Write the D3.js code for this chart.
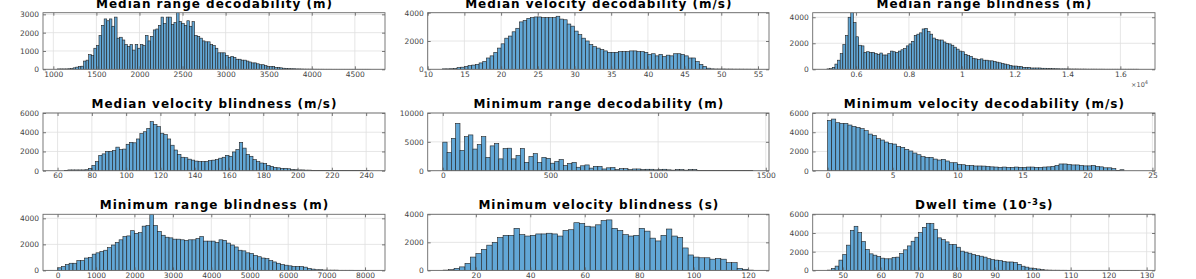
<!DOCTYPE html>
<html><head><meta charset="utf-8">
<script src="https://cdn.jsdelivr.net/npm/d3@7"></script>
<style>body{margin:0;background:#fff}svg{display:block}</style>
</head><body><svg id="c" width="1196" height="279"></svg>
<script>
// ---------- DATA ----------
const titles = [
  "Median range decodability (m)", "Median velocity decodability (m/s)", "Median range blindness (m)",
  "Median velocity blindness (m/s)", "Minimum range decodability (m)", "Minimum velocity decodability (m/s)",
  "Minimum range blindness (m)", "Minimum velocity blindness (s)", "Dwell time"
];
const binStarts = [1050, 12, 4900, 60, 0, 0, 0, 8, 45];
const binWidths = [30, 0.5, 100, 2, 20, 0.3125, 100, 2, 1];

const medRangeDec = [20,20,20,20,30,40, 80,120,150,170,450,500,800,750,
  1150,1300,1850,2400,2750,2650,2750,2350,2850,
  1700,1750,1600,1350,1250,1350,1050,1350,1150,1350,1300,
  1850,1550,1800,2150,2200,2400,2850,2500,2850,2850,2450,2550,3100,
  2600,2500,2400,2650,2350,2600,1850,1800,1700,1550,1500,1500,1350,1300,1150,
  900,900,900,750,650,700,650,550,550,500,500,450,400,350,350,300,250,250,200,150,150,150,100,100,80,60,50,40,30,30,20,20,
  15,10,10,8,6,5,4,3,3,2,2,2,1,1,1,1,1,1,1,1,1,1,1,1,1,1,1];
const medVelDec = [30,30,40,60,120,150,200,260,300,350,450,550,800,950,1200,1500,1800,2200,2350,2650,2900,3350,3450,3600,3650,3700,
  3700,3650,3650,3650,3650,3750,3550,3500,3200,3050,2700,2450,2200,2000,1750,1600,1500,1400,1300,1200,1200,1200,
  1250,1250,1250,1300,1300,1250,1250,1200,1050,1100,950,1050,900,1000,950,1100,1100,1050,950,800,800,550,350,200,80,30,
  20,20,20,15,15,10,10,10,8,8,5,5];
const medRangeBlind = [30,50,150,400,700,1200,1900,2600,4000,4400,3600,2500,1850,1800,1300,1350,1300,1300,1200,1150,
  1250,1100,1100,1200,1400,1350,1300,1400,1500,1600,1800,1950,2150,2600,2700,2800,3100,3150,2900,2700,
  2400,2300,2250,2250,2100,2000,1950,1850,1700,1550,1400,1350,1150,1050,1000,850,800,750,800,700,
  700,650,650,600,550,500,450,400,350,300,250,250,200,200,150,150,150,100,100,100,100,80,80,60,60,50,
  40,40,30,30,30,25,20,20,20,15,15,15,10,10,10,10,8,8,8,5,5,5,5,5,5,5,5,5,5,5,5,5];
const medVelBlind = [0,0,10,80,80,80,80,80,100,
  250,550,950,1600,1750,2000,2000,2100,2450,2200,2250,2750,2950,2900,3300,3850,4050,4400,5100,
  4800,4600,3900,3750,3300,2650,2150,1700,1400,1350,1200,1100,1000,950,950,950,1050,1100,1150,1300,1400,
  1600,1500,1950,2200,2950,2350,1700,1500,1150,950,800,750,550,450,350,300,250,250,200,120,100,80,80,60,60,20,
  10,8,8,5,5,5,5,3,3,3,3,2,2,2,2,2];
const minRangeDec = [4950,3150,5600,8200,3500,5900,6200,3750,4550,5900,2300,4300,4700,2050,3850,3900,2050,2650,3850,1450,
  2450,2950,1450,2300,2150,1300,1600,1950,900,1250,1450,600,850,1000,450,750,750,300,500,550,
  200,350,350,200,300,300,200,250,250,150,200,250,150,100,200,200,100,200,200,50,
  30,30,20,20,20,10,10,10,10,5,5,5];
const minVelDec = [5230,5370,4990,4920,4920,4750,4610,4500,4370,4160,3810,3670,3330,3190,2980,2840,2770,2500,2430,2220,
  2050,1840,1660,1460,1390,1390,1210,1110,1180,1010,830,830,
  660,620,550,550,490,490,480,450,
  400,380,350,380,350,350,380,350,350,380,380,350,350,380,400,
  450,550,700,700,650,600,600,550,500,500,550,450,400,300,300,220,20,100,0,0,0,0];
const minRangeBlind = [200,300,450,550,550,750,750,950,1000,1250,1350,1450,1550,1750,1950,2150,2350,2600,2650,3050,2850,2900,3400,3450,4300,
  3450,3000,2700,2550,2500,2400,2400,2350,2300,2350,2350,2450,2600,2250,
  2250,2250,2150,2350,2300,2100,1950,1800,1550,1500,1350,1300,1150,1050,950,900,750,650,550,450,400,350,300,300,300,250,150,100,50,50,
  30,20,20,20,10,10,10,10,5,5,5,5];
const minVelBlind = [20,50,150,250,500,950,1200,1500,1800,2000,2350,2500,2500,3000,2550,2450,2500,2600,2600,2650,2600,2450,
  2850,2900,3400,3350,3150,3100,3250,3550,3600,3000,2850,2550,2450,2500,3000,2800,2300,2100,2500,2950,2450,2350,
  1600,1100,950,900,900,800,850,800,550,550,150,80,20];
const dwellTime = [0,30,210,460,1100,1700,2700,4290,4720,4040,3090,2230,1770,1630,1490,1310,1240,1240,1380,1420,
  1810,2200,2620,3120,3550,4040,4610,5040,5000,4400,3480,3300,3050,2770,2770,2480,2060,1950,1840,1700,1600,1520,1420,
  1250,1150,1100,1050,950,900,900,850,650,450,350,250,200,150,80,40,30,
  20,20,15,15,10,10,10,8,8,5,5,5,5,5,3,3,3,3,3,3,3,3,3];
const counts = [medRangeDec, medVelDec, medRangeBlind, medVelBlind, minRangeDec, minVelDec, minRangeBlind, minVelBlind, dwellTime];

const xDomains = [[880,4850],[10,56.5],[4360,17310],[51.5,251],[-70,1515],[-1.15,25.2],[-380,8520],[2.3,127.7],[42.1,132.2]];
const yMaxes = [3090, 4000, 4350, 6000, 10000, 6000, 4310, 4000, 6000];
const xTicks = [
  [1000,1500,2000,2500,3000,3500,4000,4500],
  [10,15,20,25,30,35,40,45,50,55],
  [6000,8000,10000,12000,14000,16000],
  [60,80,100,120,140,160,180,200,220,240],
  [0,500,1000,1500],
  [0,5,10,15,20,25],
  [0,1000,2000,3000,4000,5000,6000,7000,8000],
  [20,40,60,80,100,120],
  [50,60,70,80,90,100,110,120,130]
];
const xTickLabels3 = ["0.6","0.8","1","1.2","1.4","1.6"];
const yTicks = [
  [0,1000,2000,3000],[0,2000,4000],[0,2000,4000],
  [0,2000,4000,6000],[0,5000,10000],[0,2000,4000,6000],
  [0,2000,4000],[0,2000,4000],[0,2000,4000,6000]
];

// ---------- LAYOUT ----------
const colX = [[43,385],[427.7,769],[812.7,1155]];
const rowY = [[12.7,69.3],[113,170.7],[214.3,270.4]];
const svg = d3.select("#c");
const FONT = "'DejaVu Sans', Arial, sans-serif";

counts.forEach((cnt, i) => {
  const r = Math.floor(i/3), c = i % 3;
  const [x0, x1] = colX[c], [yT, yB] = rowY[r];
  const x = d3.scaleLinear().domain(xDomains[i]).range([x0, x1]);
  const y = d3.scaleLinear().domain([0, yMaxes[i]]).range([yB, yT]);
  const g = svg.append("g");

  const clipId = "clip" + i;
  svg.append("clipPath").attr("id", clipId).append("rect")
    .attr("x", x0).attr("y", yT).attr("width", x1 - x0).attr("height", yB - yT);

  // grid
  g.append("g").selectAll("line").data(xTicks[i]).join("line")
    .attr("x1", d => x(d)).attr("x2", d => x(d)).attr("y1", yT).attr("y2", yB)
    .attr("stroke", "#dfdfdf").attr("stroke-width", 0.8);
  g.append("g").selectAll("line").data(yTicks[i]).join("line")
    .attr("x1", x0).attr("x2", x1).attr("y1", d => y(d)).attr("y2", d => y(d))
    .attr("stroke", "#dfdfdf").attr("stroke-width", 0.8);

  // bars
  const bins = cnt.map((v, k) => ({x0: binStarts[i] + k * binWidths[i], x1: binStarts[i] + (k + 1) * binWidths[i], v}));
  g.append("g").attr("clip-path", `url(#${clipId})`).selectAll("rect").data(bins).join("rect")
    .attr("x", d => x(d.x0)).attr("width", d => x(d.x1) - x(d.x0))
    .attr("y", d => y(d.v)).attr("height", d => y(0) - y(d.v))
    .attr("fill", "#62a7d6").attr("stroke", "#1f1f1f").attr("stroke-width", 0.6);

  // axes
  const fmtX = i === 2 ? ((d, k) => xTickLabels3[k]) : d3.format("d");
  const ax = g.append("g").attr("transform", `translate(0,${yB})`)
    .call(d3.axisBottom(x).tickValues(xTicks[i]).tickSize(-3).tickPadding(2).tickFormat(fmtX));
  const axT = g.append("g").attr("transform", `translate(0,${yT})`)
    .call(d3.axisTop(x).tickValues(xTicks[i]).tickSize(-3).tickFormat(""));
  const ay = g.append("g").attr("transform", `translate(${x0},0)`)
    .call(d3.axisLeft(y).tickValues(yTicks[i]).tickSize(-3).tickPadding(4).tickFormat(d3.format("d")));
  const ayR = g.append("g").attr("transform", `translate(${x1},0)`)
    .call(d3.axisRight(y).tickValues(yTicks[i]).tickSize(-3).tickFormat(""));
  [ax, axT, ay, ayR].forEach(a => {
    a.select(".domain").remove();
    a.selectAll(".tick line").attr("stroke", "#555").attr("stroke-width", 0.8);
    a.selectAll("text").attr("fill", "#444").style("font-family", FONT).style("font-size", "7.5px");
  });

  // box
  g.append("rect").attr("x", x0).attr("y", yT).attr("width", x1 - x0).attr("height", yB - yT)
    .attr("fill", "none").attr("stroke", "#6a6a6a").attr("stroke-width", 0.9);

  // title
  const t = g.append("text").attr("x", (x0 + x1) / 2 + 0.5).attr("y", yT - 5)
    .attr("text-anchor", "middle").style("font-family", FONT).style("font-weight", "bold")
    .style("font-size", "12px").style("letter-spacing", "1px").attr("fill", "#000");
  if (i === 8) {
    t.append("tspan").text("Dwell time (10");
    t.append("tspan").attr("dy", -4).style("font-size", "8.5px").text("-3");
    t.append("tspan").attr("dy", 4).text("s)");
  } else {
    t.text(titles[i]);
  }

  if (i === 2) {
    const e = g.append("text").attr("x", x1 - 7).attr("y", yB + 18).attr("text-anchor", "end")
      .style("font-family", FONT).style("font-size", "6.5px").attr("fill", "#555");
    e.append("tspan").text("\u00d710");
    e.append("tspan").attr("dy", -3).style("font-size", "5px").text("4");
  }
});
</script></body></html>
